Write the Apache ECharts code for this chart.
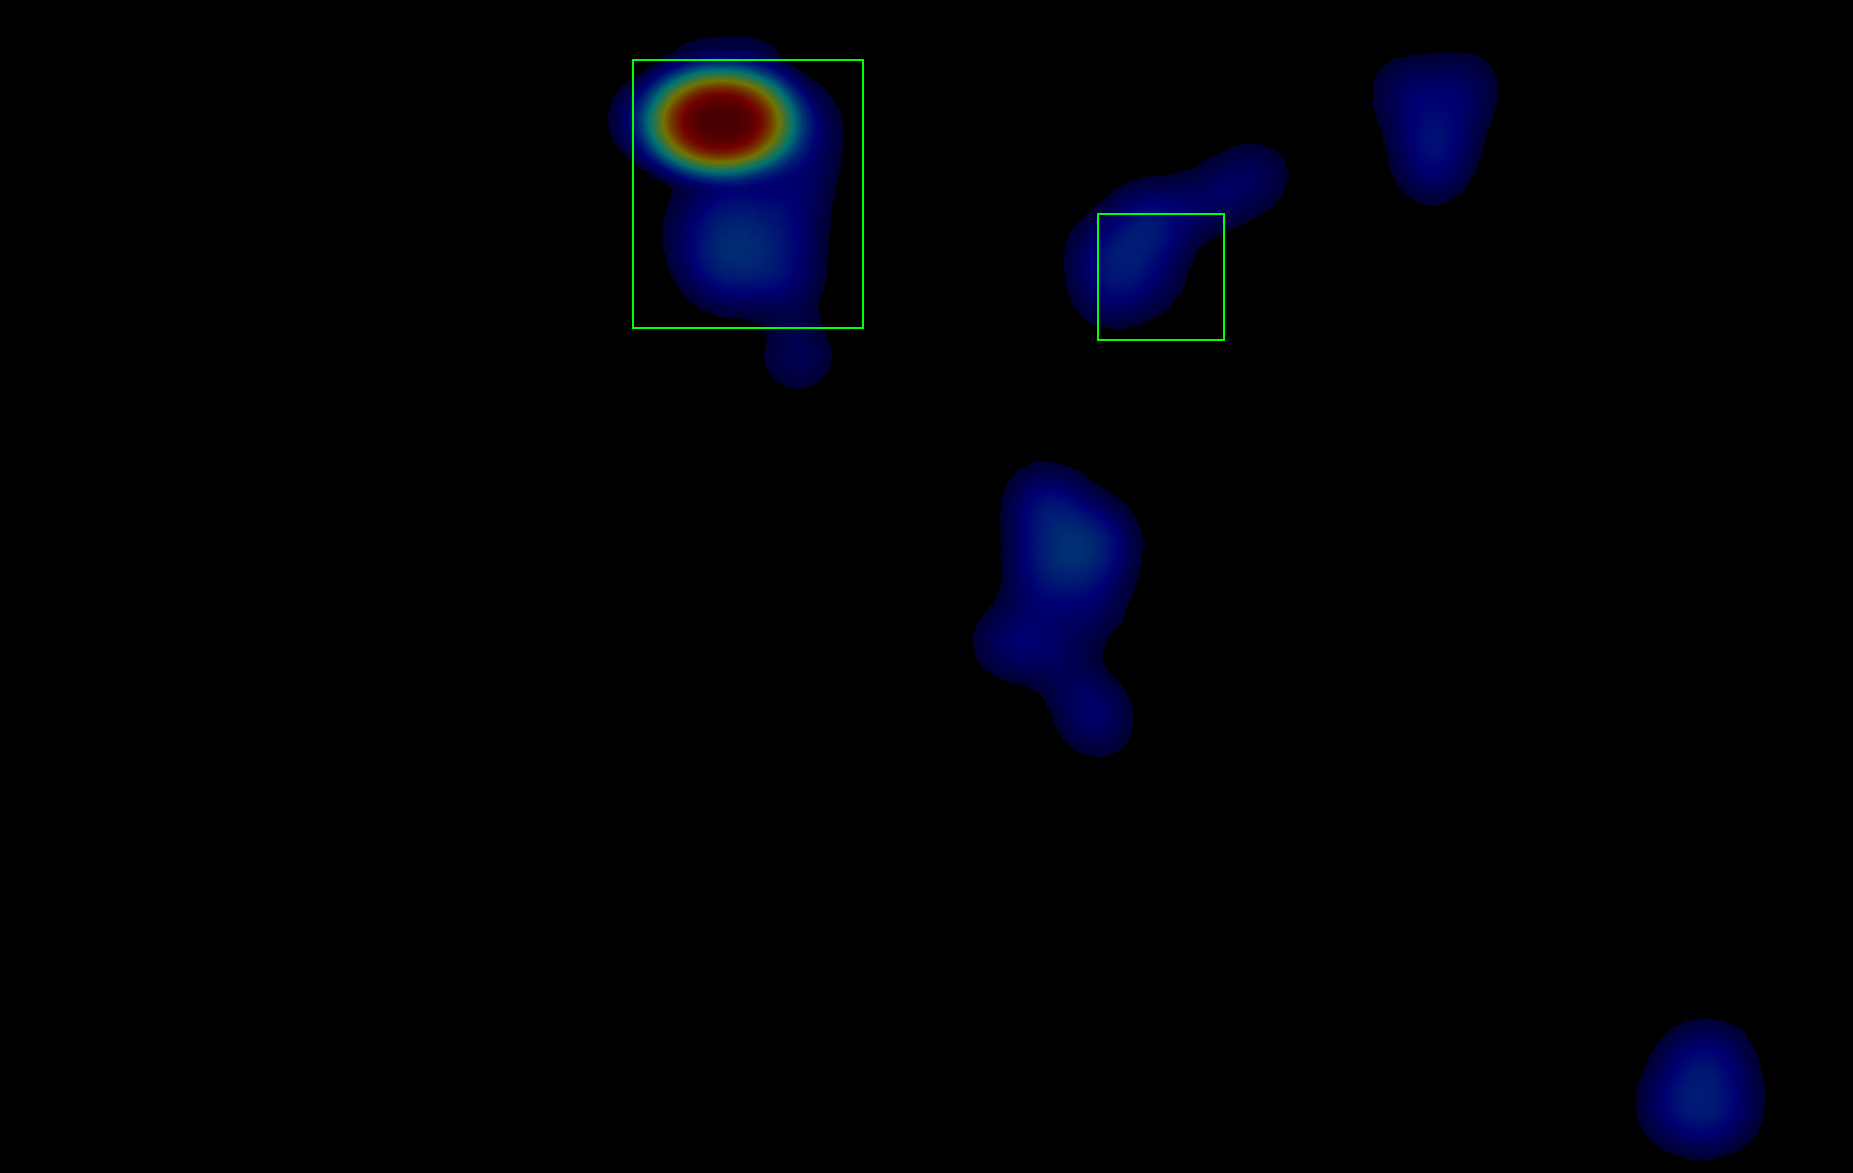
<!DOCTYPE html>
<html>
<head>
<meta charset="utf-8">
<script src="https://cdn.jsdelivr.net/npm/echarts@6/dist/echarts.min.js"></script>
<style>
  html, body { margin: 0; padding: 0; background: #000; }
  #main { width: 1853px; height: 1173px; }
</style>
</head>
<body>
<div id="main"></div>
<script>
// page size of the screenshot the gaze points refer to
const PAGE_W = 1853
const PAGE_H = 1173

// gaze points [x, y, weight], grouped by area of the page
const topLeftHot = [
  [673, 119, 0.25], [685, 119, 0.45], [697, 119, 0.7], [709, 119, 0.92], [721, 119, 1],
  [733, 119, 0.92], [745, 119, 0.7], [757, 119, 0.45], [769, 119, 0.25],
  [673, 125, 0.25], [685, 125, 0.45], [697, 125, 0.7], [709, 125, 0.92], [721, 125, 1],
  [733, 125, 0.92], [745, 125, 0.7], [757, 125, 0.45], [769, 125, 0.25]
]
const topLeftHalo = [
  [700, 74, 0.2], [750, 72, 0.2], [640, 118, 0.18],
  [805, 118, 0.2], [806, 160, 0.18]
]
const topLeftLower = [
  [703, 248, 0.25], [745, 235, 0.3], [725, 278, 0.25], [760, 272, 0.2],
  [740, 200, 0.2], [700, 205, 0.15],
  [792, 200, 0.2], [790, 240, 0.2], [790, 285, 0.18]
]
const topLeftTail = [
  [798, 355, 0.2]
]
const middleTop = [
  [1105, 250, 0.26], [1150, 240, 0.24], [1110, 290, 0.26], [1150, 280, 0.18],
  [1145, 215, 0.22],
  [1190, 210, 0.16], [1225, 192, 0.16], [1258, 175, 0.16]
]
const topRight = [
  [1408, 92, 0.22], [1462, 88, 0.22], [1422, 138, 0.18], [1450, 135, 0.18],
  [1433, 172, 0.2]
]
const center = [
  [1042, 512, 0.22], [1085, 525, 0.24], [1048, 497, 0.16], [1062, 560, 0.24],
  [1038, 558, 0.2], [1095, 570, 0.18], [1105, 545, 0.2], [1042, 600, 0.18],
  [1090, 610, 0.18], [1010, 642, 0.24], [1055, 655, 0.18],
  [1085, 700, 0.18], [1100, 725, 0.16]
]
const bottomRight = [
  [1690, 1062, 0.24], [1722, 1060, 0.2], [1674, 1106, 0.26], [1726, 1108, 0.26],
  [1700, 1124, 0.16]
]

// areas of interest [x1, y1, x2, y2]
const aoiBoxes = [
  [633, 60, 863, 328],
  [1098, 214, 1224, 340]
]

// jet-like colour ramp, darker at the low end
const rampColors = [
  '#000040', '#0000ff', '#007fff', '#00ffff', '#7fff7f',
  '#ffff00', '#ff7f00', '#ff0000', '#7f0000'
]

const gazePoints = [].concat(
  topLeftHot, topLeftHalo, topLeftLower, topLeftTail,
  middleTop, topRight, center, bottomRight
)

// an empty page in pixel coordinates so heatmap and boxes share one space
echarts.registerMap('page', {
  svg: '<svg xmlns="http://www.w3.org/2000/svg" width="' + PAGE_W + '" height="' + PAGE_H +
    '" viewBox="0 0 ' + PAGE_W + ' ' + PAGE_H + '">' +
    '<rect x="0" y="0" width="' + PAGE_W + '" height="' + PAGE_H + '" fill="none"/></svg>'
})

const chart = echarts.init(document.getElementById('main'))

const option = {
  backgroundColor: '#000',
  animation: false,
  geo: {
    map: 'page',
    left: 0,
    top: 0,
    width: PAGE_W,
    height: PAGE_H,
    roam: false,
    silent: true,
    itemStyle: { areaColor: 'transparent', borderWidth: 0 },
    emphasis: { disabled: true }
  },
  visualMap: {
    type: 'continuous',
    show: false,
    seriesIndex: 0,
    min: 0,
    max: 1,
    range: [0.035, 1],
    inRange: { color: rampColors },
    outOfRange: { color: 'rgba(0,0,0,0)' }
  },
  series: [
    {
      type: 'heatmap',
      coordinateSystem: 'geo',
      data: gazePoints,
      pointSize: 23,
      blurSize: 46,
      minOpacity: 0.45,
      maxOpacity: 0.45
    },
    {
      type: 'custom',
      coordinateSystem: 'geo',
      silent: true,
      z: 10,
      data: aoiBoxes,
      renderItem: function (params, api) {
        const p1 = api.coord([api.value(0), api.value(1)])
        const p2 = api.coord([api.value(2), api.value(3)])
        return {
          type: 'rect',
          shape: { x: p1[0], y: p1[1], width: p2[0] - p1[0], height: p2[1] - p1[1] },
          style: { fill: 'none', stroke: '#00ff00', lineWidth: 2 }
        }
      }
    }
  ]
}

chart.setOption(option)
</script>
</body>
</html>
